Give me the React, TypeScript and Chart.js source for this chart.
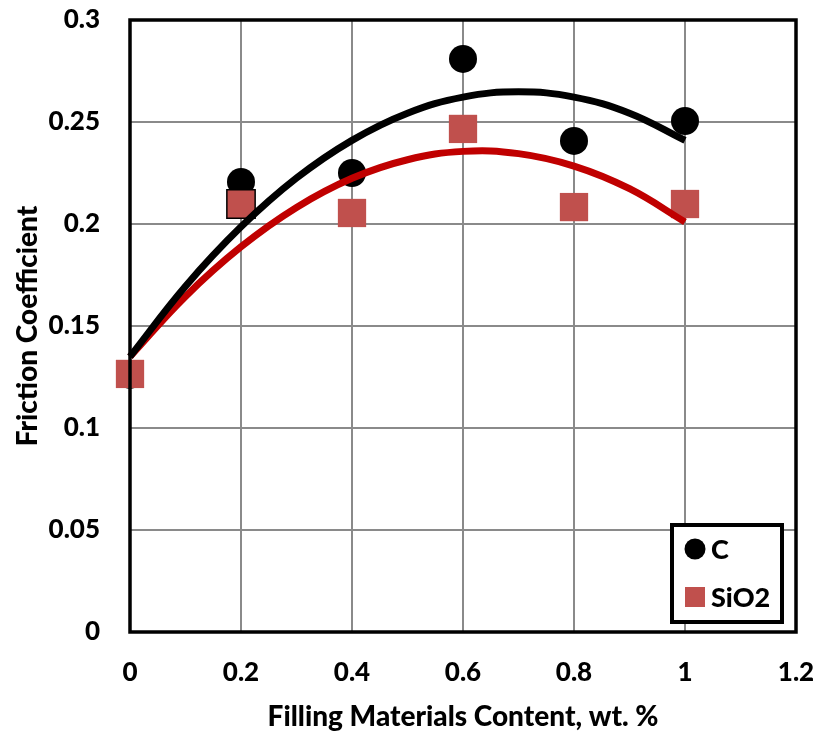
import React, { useEffect, useRef } from "react";
import { Chart, registerables } from "chart.js";

Chart.register(...registerables);

const xValues = [0, 0.2, 0.4, 0.6, 0.8, 1.0];
const cValues = [0.126, 0.2206, 0.225, 0.2809, 0.2407, 0.2505];
const sio2Values = [0.1265, 0.2098, 0.2054, 0.2466, 0.2083, 0.2098];

const trendX = [0, 0.1, 0.2, 0.3, 0.4, 0.5, 0.6, 0.7, 0.8, 0.9, 1.0];
const cTrend = [0.135, 0.1695, 0.1986, 0.2225, 0.241, 0.2543, 0.2622, 0.2648, 0.2622, 0.2543, 0.241];
const sio2Trend = [0.135, 0.1645, 0.1888, 0.2081, 0.2224, 0.2315, 0.2356, 0.2345, 0.2284, 0.2173, 0.201];

const xTickLabels = ["0", "0.2", "0.4", "0.6", "0.8", "1", "1.2"];
const yTickLabels = ["0", "0.05", "0.1", "0.15", "0.2", "0.25", "0.3"];

const seriesNames = ["C", "SiO2"];
const xTitle = "Filling Materials Content, wt. %";
const yTitle = "Friction Coefficient";

const FONT = "Lato, 'Open Sans', sans-serif";
const SQUARE_COLOR = "#C0504D";

const borderPlugin = {
  id: "areaBorder",
  afterDatasetsDraw(chart: any) {
    const { ctx, chartArea: a } = chart;
    ctx.save();
    ctx.strokeStyle = "#000";
    ctx.lineWidth = 3.5;
    ctx.strokeRect(a.left, a.top, a.right - a.left, a.bottom - a.top);
    ctx.restore();
  },
};

const legendPlugin = {
  id: "insideLegend",
  afterDraw(chart: any) {
    const { ctx, chartArea: a } = chart;
    const w = 110;
    const h = 97;
    const x = a.right - 14 - w;
    const y = a.bottom - 10 - h;
    ctx.save();
    ctx.fillStyle = "#fff";
    ctx.fillRect(x, y, w, h);
    ctx.strokeStyle = "#000";
    ctx.lineWidth = 4;
    ctx.strokeRect(x, y, w, h);
    ctx.fillStyle = "#000";
    ctx.beginPath();
    ctx.arc(x + 23, y + 24, 10.5, 0, Math.PI * 2);
    ctx.fill();
    ctx.fillStyle = SQUARE_COLOR;
    ctx.fillRect(x + 13, y + 62, 20, 20);
    ctx.fillStyle = "#000";
    ctx.font = `900 27px ${FONT}`;
    ctx.textBaseline = "middle";
    ctx.textAlign = "left";
    ctx.fillText(seriesNames[0], x + 39, y + 25);
    ctx.fillText(seriesNames[1], x + 39, y + 73);
    ctx.restore();
  },
};

export default function App() {
  const ref = useRef<HTMLCanvasElement | null>(null);

  useEffect(() => {
    if (!ref.current) return;
    const chart = new Chart(ref.current, {
      type: "scatter",
      data: {
        datasets: [
          {
            type: "line",
            label: "C trend",
            data: trendX.map((x, i) => ({ x, y: cTrend[i] })),
            borderColor: "#000",
            borderWidth: 7,
            pointRadius: 0,
            tension: 0.4,
            fill: false,
            clip: false,
            order: 0,
          } as any,
          {
            type: "line",
            label: "SiO2 trend",
            data: trendX.map((x, i) => ({ x, y: sio2Trend[i] })),
            borderColor: "#C00000",
            borderWidth: 7,
            pointRadius: 0,
            tension: 0.4,
            fill: false,
            clip: false,
            order: 0,
          } as any,
          {
            label: seriesNames[1],
            data: xValues.map((x, i) => ({ x, y: sio2Values[i] })),
            pointStyle: "rect",
            pointRadius: 20,
            pointBackgroundColor: SQUARE_COLOR,
            pointBorderColor: xValues.map((_, i) => (i === 1 ? "#000" : SQUARE_COLOR)),
            pointBorderWidth: xValues.map((_, i) => (i === 1 ? 1.5 : 0)),
            clip: false,
            order: 1,
          },
          {
            label: seriesNames[0],
            data: xValues.map((x, i) => ({ x, y: cValues[i] })),
            pointStyle: "circle",
            pointRadius: 14,
            pointBackgroundColor: "#000",
            pointBorderColor: "#000",
            pointBorderWidth: 0,
            clip: false,
            order: 2,
          },
        ],
      },
      options: {
        animation: false,
        responsive: false,
        maintainAspectRatio: false,
        layout: { autoPadding: false, padding: { top: 20, right: 25, left: 11, bottom: 0 } },
        plugins: {
          legend: { display: false },
          tooltip: { enabled: false },
        },
        scales: {
          x: {
            type: "linear",
            min: 0,
            max: 1.2,
            ticks: {
              stepSize: 0.2,
              color: "#000",
              font: { family: FONT, size: 26, weight: "900" },
              padding: 25,
              maxRotation: 0,
              callback: (_v: any, i: number) => xTickLabels[i],
            },
            grid: { color: "#8a8a8a", lineWidth: 2, drawTicks: false },
            border: { display: false },
            title: {
              display: true,
              text: xTitle,
              color: "#000",
              font: { family: FONT, size: 28, weight: "900" },
              padding: { top: 4, bottom: 2 },
            },
            afterFit: (s: any) => {
              s.height = 104;
              s.paddingLeft = 0;
              s.paddingRight = 0;
            },
          },
          y: {
            type: "linear",
            min: 0,
            max: 0.3,
            ticks: {
              stepSize: 0.05,
              color: "#000",
              font: { family: FONT, size: 26, weight: "900" },
              padding: 30,
              callback: (_v: any, i: number) => yTickLabels[i],
            },
            grid: { color: "#8a8a8a", lineWidth: 2, drawTicks: false },
            border: { display: false },
            title: {
              display: true,
              text: yTitle,
              color: "#000",
              font: { family: FONT, size: 28, weight: "900" },
              padding: { top: 0, bottom: 10 },
            },
            afterFit: (s: any) => {
              s.width = 119;
              s.paddingTop = 0;
              s.paddingBottom = 0;
            },
          },
        },
      },
      plugins: [borderPlugin, legendPlugin],
    } as any);
    return () => chart.destroy();
  }, []);

  return (
    <div style={{ position: "absolute", left: 0, top: 0, width: 821, height: 736, background: "#fff" }}>
      <canvas ref={ref} width={821} height={736} style={{ width: 821, height: 736 }} />
    </div>
  );
}
